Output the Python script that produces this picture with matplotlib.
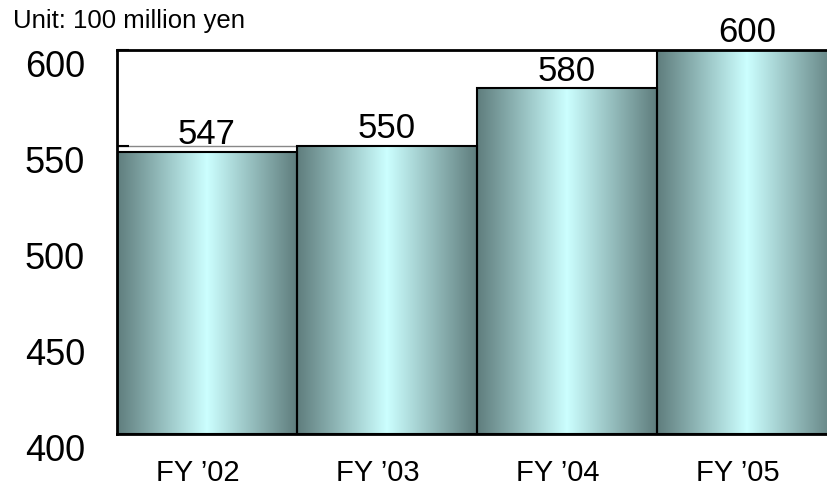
import matplotlib.pyplot as plt
import matplotlib.transforms as mtransforms
from matplotlib.colors import LinearSegmentedColormap
import numpy as np

plt.rcParams['font.family'] = ['Liberation Sans', 'DejaVu Sans']

years = ["FY \u201902", "FY \u201903", "FY \u201904", "FY \u201905"]
sales = [547, 550, 580, 600]
yticks = [400, 450, 500, 550, 600]

# dark teal at the edges, pale cyan in the middle of each bar
edge_col = "#5f7d7d"
mid_col = "#ccffff"
cmap = LinearSegmentedColormap.from_list("bar", [edge_col, mid_col, edge_col])

fig = plt.figure(figsize=(8.28, 4.86), dpi=100)
ax = fig.add_axes([117 / 828, 52 / 486, 720 / 828, 384 / 486])

grad = np.linspace(0, 1, 256).reshape(1, -1)
for i, v in enumerate(sales):
    ax.imshow(grad, cmap=cmap, extent=(i - 0.5, i + 0.5, 400, v),
              aspect="auto", zorder=2, interpolation="bilinear")
    ax.bar(i, v - 400, bottom=400, width=1.0, facecolor="none",
           edgecolor="black", linewidth=1.5, zorder=3)
    ax.annotate(str(v), (i, v), xytext=(0, 5.5), textcoords="offset points",
                ha="center", va="baseline", fontsize=25)

ax.set_xlim(-0.5, 3.5)
ax.set_ylim(400, 600)
ax.set_aspect("auto")

ax.set_yticks(yticks)
ax.set_yticklabels([str(t) for t in yticks], fontsize=26)
ax.set_xticks(range(len(years)))
ax.set_xticklabels(years, fontsize=21)

ax.tick_params(axis="y", direction="in", length=8.5, width=1.5, pad=23)
ax.tick_params(axis="x", length=0, pad=18)
for side in ["top", "bottom", "left"]:
    ax.spines[side].set_linewidth(2)
ax.spines["right"].set_visible(False)

ax.grid(axis="y", color="#888888", linewidth=1, zorder=1)
ax.set_axisbelow(True)

# labels in the original sit a little below / left of their ticks
ydown = mtransforms.ScaledTranslation(0, -13 / 100, fig.dpi_scale_trans)
for lab in ax.get_yticklabels():
    lab.set_transform(lab.get_transform() + ydown)
xleft = mtransforms.ScaledTranslation(-9 / 100, 0, fig.dpi_scale_trans)
for lab in ax.get_xticklabels():
    lab.set_transform(lab.get_transform() + xleft)

fig.text(13 / 828, 1 - 9 / 486, "Unit: 100 million yen", fontsize=18.5,
         ha="left", va="top")

fig.savefig("out.png", dpi=100)
